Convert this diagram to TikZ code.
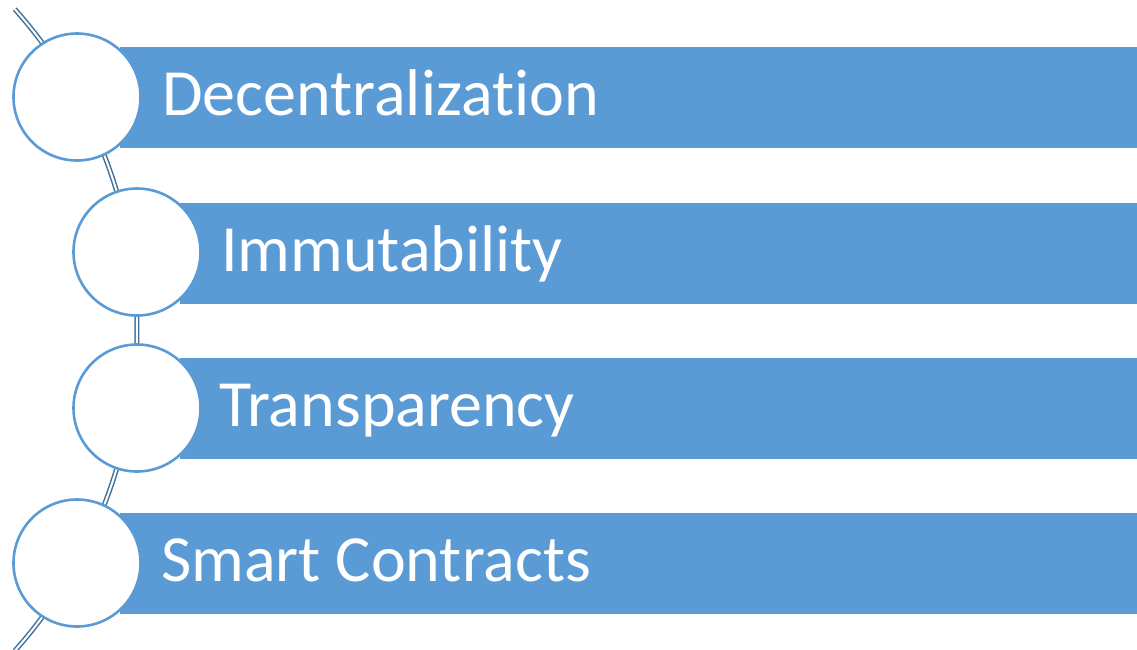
\documentclass[tikz,border=0pt]{standalone}
\usepackage{fontspec}
\setmainfont[Ligatures=NoCommon]{Carlito}
\usetikzlibrary{positioning}
\definecolor{accent}{HTML}{5B9BD5}
\definecolor{linkblue}{HTML}{41719C}
\tikzset{
  bar/.style={fill=accent, draw=none, anchor=north west, minimum width=1017, minimum height=101, inner sep=0},
  bullet/.style={circle, draw=accent, fill=white, line width=2.6pt, minimum size=127, inner sep=0},
  lbl/.style={text=white, anchor=base west, inner sep=0, font=\fontsize{66}{72}\selectfont},
  link/.style={draw=linkblue, line width=1.5pt, double=white, double distance=2pt}
}
\begin{document}
\begin{tikzpicture}[x=1pt, y=-1pt]
  \useasboundingbox (0,0) rectangle (1137,649);
  \coordinate (hub) at (-345.4,330);

  % bars
  \node[bar] (b1) at (120,47) {};
  \node[bar] (b2) at (180,203) {};
  \node[bar] (b3) at (180,358) {};
  \node[bar] (b4) at (120,513) {};

  % spine
  \draw[link] ([shift={(-41.7:482.4)}]hub) arc[start angle=-41.7, end angle=41.7, radius=482.4];

  % bullets
  \node[bullet] (c1) at (77,97) {};
  \node[bullet] (c2) at (137,252) {};
  \node[bullet] (c3) at (137,408) {};
  \node[bullet] (c4) at (77,563) {};

  \node[lbl] (t1) at (162,115) {Decentralization};
  \node[lbl] (t2) at (221,271) {Immutability};
  \node[lbl] (t3) at (219,426) {Transparency};
  \node[lbl] (t4) at (161,581) {Smart Contracts};
\end{tikzpicture}
\end{document}
